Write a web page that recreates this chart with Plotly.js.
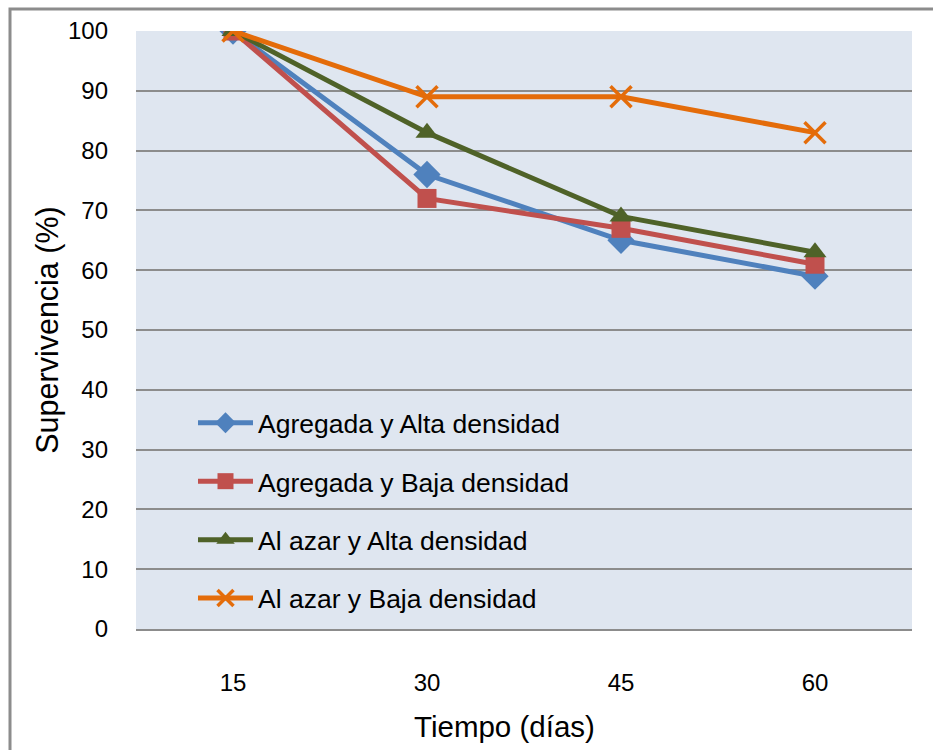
<!DOCTYPE html>
<html>
<head>
<meta charset="utf-8">
<script src="https://cdn.plot.ly/plotly-3.0.1.min.js"></script>
<style>
html,body{margin:0;padding:0;background:#fff;}
#chart{width:933px;height:750px;}
</style>
</head>
<body>
<div id="chart"></div>
<script>
const categories = ["15", "30", "45", "60"];
const seriesNames = ["Agregada y Alta densidad", "Agregada y Baja densidad", "Al azar y Alta densidad", "Al azar y Baja densidad"];
const agregadaAlta = [100, 76, 65, 59];
const agregadaBaja = [100, 72, 67, 61];
const azarAlta = [100, 83, 69, 63];
const azarBaja = [100, 89, 89, 83];
const yTicks = [0, 10, 20, 30, 40, 50, 60, 70, 80, 90, 100];

const colors = ["#4f81bd", "#c0504d", "#4f6228", "#e46c0a"];
const symbols = ["diamond", "square", "triangle-up", "x-thin-open"];
const sizes = [21, 19, 20, 21];
const values = [agregadaAlta, agregadaBaja, azarAlta, azarBaja];

const traces = values.map((v, i) => ({
  type: "scatter",
  mode: "lines+markers",
  x: categories,
  y: v,
  name: seriesNames[i],
  legendgroup: "g" + i,
  line: {color: colors[i], width: 5},
  marker: {
    symbol: symbols[i],
    size: sizes[i],
    color: colors[i],
    line: {color: colors[i], width: i === 3 ? 3.5 : 0}
  }
}));

const L = 136, R = 21, T = 31, B = 121;
const W = 933, H = 750;
const pw = W - L - R, ph = H - T - B;
const px = v => (v - L) / pw;
const py = v => (H - B - v) / ph;

const FONT = "Liberation Sans";

const layout = {
  width: W, height: H,
  margin: {l: L, r: R, t: T, b: B, pad: 0},
  paper_bgcolor: "#ffffff",
  plot_bgcolor: "#dfe6f0",
  font: {family: FONT, color: "#000", size: 24},
  showlegend: true,
  legend: {
    x: px(193), y: py(399), xanchor: "left", yanchor: "top",
    bgcolor: "rgba(0,0,0,0)",
    font: {family: FONT, size: 26.5, color: "#000"},
    traceorder: "grouped",
    tracegroupgap: 21,
    itemwidth: 55
  },
  xaxis: {
    type: "category",
    range: [-0.5, 3.5],
    showgrid: false,
    zeroline: false,
    showline: true,
    linecolor: "#8c8c8c",
    linewidth: 2,
    ticks: "",
    ticklabelstandoff: 31,
    tickfont: {family: FONT, size: 24},
    title: {text: ""},
    fixedrange: true
  },
  yaxis: {
    range: [0, 100],
    tickvals: yTicks,
    ticktext: yTicks.map(String),
    showgrid: true,
    gridcolor: "#8c8c8c",
    gridwidth: 2,
    zeroline: false,
    showline: false,
    ticks: "",
    ticklabelstandoff: 27,
    tickfont: {family: FONT, size: 24},
    title: {text: "Supervivencia (%)", font: {family: FONT, size: 30.5}, standoff: 0},
    fixedrange: true
  },
  annotations: [{
    text: "Tiempo (días)",
    xref: "paper", yref: "paper",
    x: px(504), y: py(726),
    xanchor: "center", yanchor: "middle",
    showarrow: false,
    font: {family: FONT, size: 29.5, color: "#000"}
  }],
  shapes: [{
    type: "rect", xref: "paper", yref: "paper",
    x0: px(10), x1: px(945), y0: py(765), y1: py(9),
    line: {color: "#8c8c8c", width: 3},
    fillcolor: "rgba(0,0,0,0)",
    layer: "below"
  }]
};

Plotly.newPlot("chart", traces, layout, {displayModeBar: false, staticPlot: true});
</script>
</body>
</html>
